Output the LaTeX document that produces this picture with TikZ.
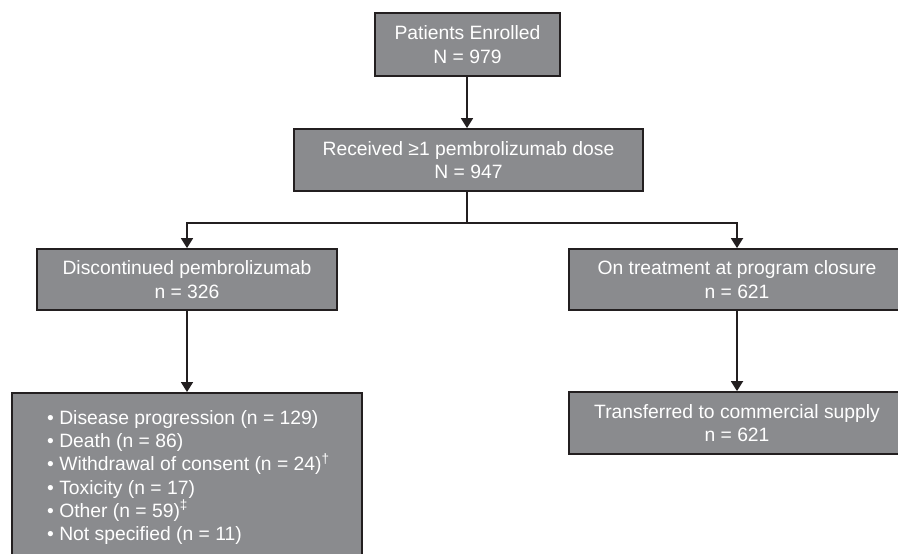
\documentclass[tikz,border=0pt]{standalone}
\usepackage{fontspec}
\setmainfont{Liberation Sans}
\usetikzlibrary{arrows.meta}
\definecolor{boxgray}{HTML}{8A8B8E}
\definecolor{edge}{HTML}{231F20}
\tikzset{
  fbox/.style={draw=edge, line width=1.8pt, fill=boxgray, text=white, align=center,
    inner sep=0pt, font=\fontsize{19.3}{23.5}\selectfont},
  arr/.style={draw=edge, line width=1.8pt, -{Triangle[width=12pt,length=10pt]}},
  ln/.style={draw=edge, line width=1.8pt}
}
\begin{document}
\begin{tikzpicture}[x=1pt,y=-1pt]
\clip (0,0) rectangle (898,554);
\fill[white] (0,0) rectangle (898,554);
\node[fbox, minimum width=185pt, minimum height=63pt] (enrolled) at (467.5,44.5) {Patients Enrolled\\N = 979};
\node[fbox, minimum width=349pt, minimum height=62pt] (received) at (468.5,160) {Received ≥1 pembrolizumab dose\\N = 947};
\node[fbox, minimum width=300pt, minimum height=61pt] (disc) at (187,279.5) {Discontinued pembrolizumab\\n = 326};
\node[fbox, minimum width=336pt, minimum height=61pt] (ontreat) at (737,279.5) {On treatment at program closure\\n = 621};
\node[fbox, minimum width=350pt, minimum height=210pt, anchor=north] (reasons) at (187,392) {};
\node[anchor=north west, text=white, align=left, inner sep=0pt, font=\fontsize{19.3}{23.3}\selectfont] (reasonstext) at (47,410)
  {• Disease progression (n = 129)\\
   • Death (n = 86)\\
   • Withdrawal of consent (n = 24)\textsuperscript{†}\\
   • Toxicity (n = 17)\\
   • Other (n = 59)\textsuperscript{‡}\\
   • Not specified (n = 11)};
\node[fbox, minimum width=336pt, minimum height=62pt] (transferred) at (737,423) {Transferred to commercial supply\\n = 621};
\coordinate (split) at (467,223);
\draw[arr] (enrolled.south -| split) -- (received.north -| split);
\draw[ln] (received.south -| split) -- (split);
\draw[arr] (split) -| (disc.north);
\draw[arr] (split) -| (ontreat.north);
\draw[arr] (disc.south) -- (reasons.north);
\draw[arr] (ontreat.south) -- (transferred.north);
\end{tikzpicture}
\end{document}
